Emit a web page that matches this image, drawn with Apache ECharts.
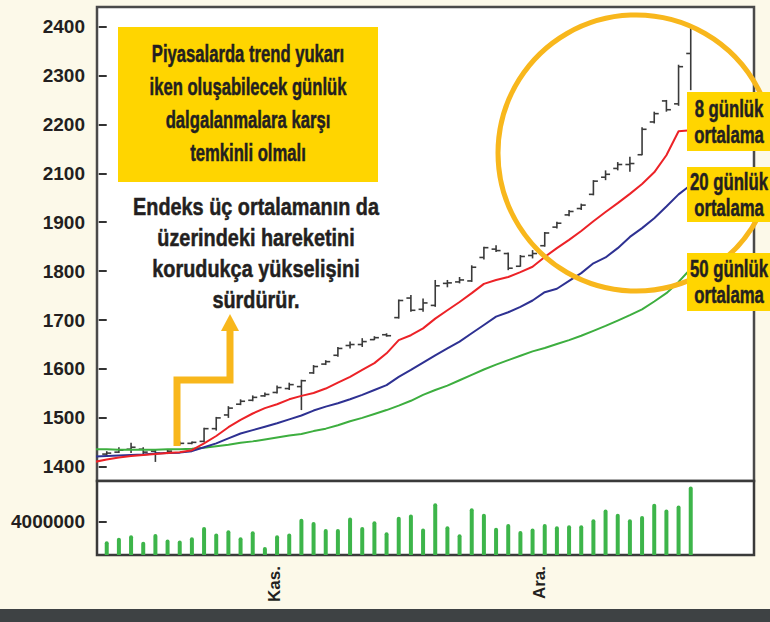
<!DOCTYPE html>
<html>
<head>
<meta charset="utf-8">
<script src="https://cdn.jsdelivr.net/npm/echarts@6/dist/echarts.min.js"></script>
<style>
html,body{margin:0;padding:0;background:#FCF9E9;}
#c{width:770px;height:622px;}
</style>
</head>
<body>
<div id="c"></div>
<script>
// ---------- data ----------
const priceTickValues = [1400,1500,1600,1700,1800,1900,2000,2100,2200,2300];
const priceTickLabels = ['1400','1500','1600','1700','1800','1900','2100','2200','2300','2400'];
const volumeTickValues = [4000000];
const volumeTickLabels = ['4000000'];
const monthLabelAt = [13.8, 35.6];
const monthLabels = ['Kas.', 'Ara.'];

const dayIndex = Array.from({length: 49}, (_, i) => i);      // trading day slots
const maDays = [-1].concat(dayIndex);                       // averages start one day earlier

const open  = [1426,1430,1436,1436,1432,1428,1446,1448,1452,1478,1506,1528,1536,1545,1552,1560,1564,1592,1610,1628,1648,1650,1660,1670,1705,1745,1722,1730,1775,1778,1780,1828,1845,1836,1810,1832,1852,1890,1915,1928,1957,1992,2010,2018,2038,2105,2148,2142,2245];
const high  = [1432,1440,1449,1440,1436,1436,1452,1452,1480,1502,1524,1538,1546,1552,1566,1572,1578,1608,1618,1645,1656,1663,1667,1673,1742,1751,1744,1782,1782,1788,1812,1850,1853,1838,1833,1843,1880,1901,1925,1938,1986,2006,2023,2034,2094,2126,2150,2222,2303];
const low   = [1420,1428,1428,1424,1410,1426,1444,1446,1450,1474,1500,1526,1534,1543,1550,1557,1516,1590,1608,1625,1642,1645,1659,1666,1703,1717,1717,1727,1767,1775,1778,1824,1839,1802,1809,1826,1850,1887,1912,1925,1955,1986,2006,2003,2037,2102,2126,2138,2170];
const close = [1428,1434,1440,1430,1428,1432,1448,1450,1478,1500,1520,1534,1542,1548,1562,1568,1576,1605,1615,1642,1650,1656,1664,1668,1740,1720,1735,1770,1776,1782,1808,1848,1842,1806,1830,1836,1878,1898,1922,1935,1984,1998,2018,2020,2090,2122,2130,2218,2298];

const volume = [1650000,2040000,2350000,1570000,2510000,1840000,1730000,2120000,3330000,2550000,2940000,2120000,2820000,940000,2350000,2550000,4310000,3920000,3100000,3100000,4470000,3330000,4000000,2710000,4550000,4820000,3140000,6160000,3410000,2470000,5570000,4900000,3250000,3690000,2860000,3140000,3690000,3410000,3530000,3530000,4240000,5410000,4900000,4240000,4630000,6080000,5410000,5880000,8160000];

const ma8  = [1410,1415,1419,1422,1424,1426,1428,1430,1434,1448,1463,1481,1496,1509,1520,1528,1538,1545,1551,1560,1572,1584,1598,1612,1632,1659,1669,1683,1703,1720,1737,1755,1774,1782,1788,1798,1809,1829,1847,1864,1882,1902,1921,1939,1958,1978,2002,2037,2086,2088];
const ma20 = [1421,1422,1423,1424,1425,1427,1428,1429,1432,1440,1448,1458,1468,1475,1482,1489,1497,1505,1515,1523,1530,1538,1547,1557,1567,1584,1598,1613,1628,1642,1656,1673,1690,1707,1716,1727,1740,1757,1764,1780,1796,1816,1828,1847,1870,1888,1908,1932,1957,1976];
const ma50 = [1436,1436,1435,1435,1435,1435,1436,1436,1437,1439,1442,1445,1449,1452,1456,1460,1464,1467,1473,1478,1485,1493,1500,1508,1516,1525,1535,1547,1557,1566,1577,1588,1599,1609,1618,1627,1636,1643,1651,1659,1668,1678,1688,1699,1710,1722,1738,1755,1778,1805];

const noteTop = ['Piyasalarda trend yukarı', 'iken oluşabilecek günlük', 'dalgalanmalara karşı', 'temkinli olmalı'];
const noteMid = ['Endeks üç ortalamanın da', 'üzerindeki hareketini', 'korudukça yükselişini', 'sürdürür.'];
const maNames = [['8 günlük', 'ortalama'], ['20 günlük', 'ortalama'], ['50 günlük', 'ortalama']];

// ---------- style ----------
const FONT = '"Liberation Sans", Arial, sans-serif';
const INK = '#231F20';
const YEL = '#FFD500';
const ORANGE = '#F8B71C';

const pick = (vals, labels) => (v) => {
  const i = vals.findIndex(x => Math.abs(x - v) < 1e-6);
  return i >= 0 ? labels[i] : '';
};

// horizontal condensing factor so a text block reaches a given width
const mctx = document.createElement('canvas').getContext('2d');
function fitScale(lines, font, target) {
  mctx.font = font;
  const w = Math.max.apply(null, lines.map(s => mctx.measureText(s).width));
  return w > 0 ? target / w : 1;
}

const ohlc = dayIndex.map((d, i) => [d, open[i], high[i], low[i], close[i]]);
const vol = dayIndex.map((d, i) => [d, volume[i]]);
const lineData = arr => maDays.map((d, i) => [d, arr[i]]);

const chart = echarts.init(document.getElementById('c'), null, {renderer: 'svg', width: 770, height: 622});

const fTop = 'bold 23px ' + FONT;
const fMid = 'bold 24px ' + FONT;
const fBox = 'bold 23px ' + FONT;
const sTop = fitScale(noteTop, fTop, 197);
const sMid = fitScale(noteMid, fMid, 246);
const sBox = fitScale(['20 günlük'], fBox, 78);
const heavy = {stroke: INK, lineWidth: 0.5};

const labelBoxes = [
  {y: 92, h: 59},
  {y: 167, h: 55},
  {y: 253, h: 58}
];

const graphics = [
  {type: 'rect', z: 100, shape: {x: 118, y: 27, width: 260, height: 155}, style: {fill: YEL}},
  {type: 'text', z: 101, x: 248, y: 103, scaleX: sTop,
    style: Object.assign({text: noteTop.join('\n'), x: 0, y: 0, align: 'center', verticalAlign: 'middle',
      font: fTop, lineHeight: 33, fill: INK}, heavy)},
  {type: 'text', z: 101, x: 256, y: 253, scaleX: sMid,
    style: Object.assign({text: noteMid.join('\n'), x: 0, y: 0, align: 'center', verticalAlign: 'middle',
      font: fMid, lineHeight: 31, fill: INK}, heavy)},
  {type: 'polyline', z: 90, shape: {points: [[177, 446], [177, 380], [230, 380], [230, 328]]},
    style: {stroke: ORANGE, lineWidth: 7, fill: null, lineJoin: 'miter', lineCap: 'butt'}},
  {type: 'polygon', z: 90, shape: {points: [[221, 331], [239, 331], [230, 314]]}, style: {fill: ORANGE}},
  {type: 'circle', z: 95, shape: {cx: 636, cy: 153, r: 138}, style: {fill: null, stroke: ORANGE, lineWidth: 5}},
  {type: 'rect', z: 1, shape: {x: 0, y: 609, width: 770, height: 13}, style: {fill: '#3e4244'}}
];
labelBoxes.forEach((b, k) => {
  graphics.push({type: 'rect', z: 110, shape: {x: 687, y: b.y, width: 83, height: b.h}, style: {fill: YEL}});
  graphics.push({type: 'text', z: 111, x: 729, y: b.y + b.h / 2, scaleX: sBox,
    style: Object.assign({text: maNames[k].join('\n'), x: 0, y: 0, align: 'center', verticalAlign: 'middle',
      font: fBox, lineHeight: 26, fill: INK}, heavy)});
});

const axisFont = {fontFamily: FONT, fontWeight: 'bold', color: INK};

const option = {
  backgroundColor: '#FCF9E9',
  animation: false,
  grid: [
    {left: 97, top: 7, width: 657, height: 474, show: true, backgroundColor: '#fff', borderColor: '#4a4a4a', borderWidth: 2.5},
    {left: 97, top: 481, width: 657, height: 74, show: true, backgroundColor: '#fff', borderColor: '#3a3a3a', borderWidth: 2.5}
  ],
  xAxis: [
    {type: 'value', gridIndex: 0, min: -0.8, max: 53.2, axisLine: {show: false}, axisTick: {show: false},
      axisLabel: {show: false}, splitLine: {show: false}},
    {type: 'value', gridIndex: 1, min: -0.8, max: 53.2, axisLine: {show: false}, axisTick: {show: false},
      splitLine: {show: false},
      axisLabel: Object.assign({customValues: monthLabelAt, formatter: pick(monthLabelAt, monthLabels),
        rotate: 90, margin: 11, fontSize: 17}, axisFont)}
  ],
  yAxis: [
    {type: 'value', gridIndex: 0, min: 1371, max: 2340, axisLine: {show: false}, splitLine: {show: false},
      axisTick: {show: true, customValues: priceTickValues, length: 8, lineStyle: {color: '#333', width: 2}},
      axisLabel: Object.assign({customValues: priceTickValues, formatter: pick(priceTickValues, priceTickLabels),
        margin: 12, fontSize: 19}, axisFont)},
    {type: 'value', gridIndex: 1, min: 0, max: 8800000, axisLine: {show: false}, splitLine: {show: false},
      axisTick: {show: true, customValues: volumeTickValues, length: 8, lineStyle: {color: '#333', width: 2}},
      axisLabel: Object.assign({customValues: volumeTickValues, formatter: pick(volumeTickValues, volumeTickLabels),
        margin: 12, fontSize: 19}, axisFont)}
  ],
  series: [
    {type: 'bar', name: 'Hacim', xAxisIndex: 1, yAxisIndex: 1, data: vol, barWidth: 4,
      itemStyle: {color: '#3DB54A', borderRadius: [2, 2, 0, 0]}},
    {type: 'custom', name: 'Endeks', xAxisIndex: 0, yAxisIndex: 0, data: ohlc, encode: {x: 0, y: [1, 2, 3, 4]},
      renderItem: (params, api) => {
        const x = api.value(0);
        const o = api.coord([x, api.value(1)]);
        const h = api.coord([x, api.value(2)]);
        const l = api.coord([x, api.value(3)]);
        const c = api.coord([x, api.value(4)]);
        const t = 4.5;
        const style = {stroke: '#3a3a3a', lineWidth: 1.6};
        return {type: 'group', children: [
          {type: 'line', shape: {x1: h[0], y1: h[1], x2: l[0], y2: l[1]}, style},
          {type: 'line', shape: {x1: o[0] - t, y1: o[1], x2: o[0], y2: o[1]}, style},
          {type: 'line', shape: {x1: c[0], y1: c[1], x2: c[0] + t, y2: c[1]}, style}
        ]};
      }},
    {type: 'line', name: '50 günlük', xAxisIndex: 0, yAxisIndex: 0, data: lineData(ma50), showSymbol: false,
      lineStyle: {color: '#3DAE3F', width: 2}, clip: true},
    {type: 'line', name: '20 günlük', xAxisIndex: 0, yAxisIndex: 0, data: lineData(ma20), showSymbol: false,
      lineStyle: {color: '#2E3192', width: 2}, clip: true},
    {type: 'line', name: '8 günlük', xAxisIndex: 0, yAxisIndex: 0, data: lineData(ma8), showSymbol: false,
      lineStyle: {color: '#EC2227', width: 2}, clip: true}
  ],
  graphic: graphics
};
chart.setOption(option);
</script>
</body>
</html>
